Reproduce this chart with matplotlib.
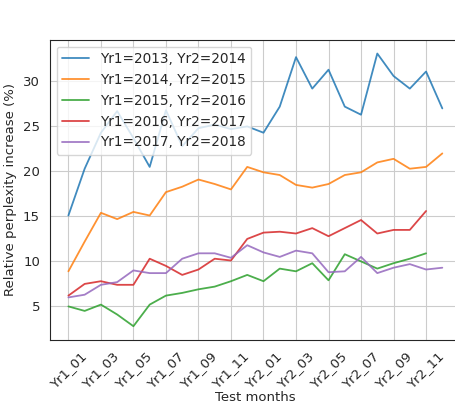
import matplotlib
matplotlib.use("Agg")
import matplotlib.pyplot as plt
import seaborn as sns

months = ["Yr%d_%02d" % (y, m) for y in (1, 2) for m in range(1, 13)]

series_labels = ["Yr1=2013, Yr2=2014", "Yr1=2014, Yr2=2015", "Yr1=2015, Yr2=2016",
                 "Yr1=2016, Yr2=2017", "Yr1=2017, Yr2=2018"]

y2013 = [15.1, 20.3, 24.3, 26.7, 23.7, 20.5, 26.8, 22.8, 24.8, 25.2, 24.7, 25.0,
         24.3, 27.2, 32.7, 29.2, 31.3, 27.2, 26.3, 33.1, 30.6, 29.2, 31.1, 27.0]
y2014 = [8.9, 12.2, 15.4, 14.7, 15.5, 15.1, 17.7, 18.3, 19.1, 18.6, 18.0, 20.5,
         19.9, 19.6, 18.5, 18.2, 18.6, 19.6, 19.9, 21.0, 21.4, 20.3, 20.5, 22.0]
y2015 = [5.0, 4.5, 5.2, 4.1, 2.8, 5.2, 6.2, 6.5, 6.9, 7.2, 7.8, 8.5,
         7.8, 9.2, 8.9, 9.8, 7.9, 10.8, 10.0, 9.2, 9.8, 10.3, 10.9]
y2016 = [6.2, 7.5, 7.8, 7.4, 7.4, 10.3, 9.5, 8.5, 9.1, 10.3, 10.1, 12.5,
         13.2, 13.3, 13.1, 13.7, 12.8, 13.7, 14.6, 13.1, 13.5, 13.5, 15.6]
y2017 = [6.0, 6.3, 7.4, 7.7, 9.0, 8.7, 8.7, 10.3, 10.9, 10.9, 10.4, 11.8,
         11.0, 10.5, 11.2, 10.9, 8.8, 8.9, 10.5, 8.7, 9.3, 9.7, 9.1, 9.3]

sns.set_style("whitegrid", {"axes.edgecolor": ".15"})
plt.rcParams['font.family'] = ['DejaVu Sans']

fig = plt.figure(figsize=(4.56, 4.07), dpi=100)
ax = fig.add_axes([0.109, 0.165, 0.902, 0.737])

for vals, lab in zip([y2013, y2014, y2015, y2016, y2017], series_labels):
    ax.plot(range(len(vals)), vals, label=lab, lw=1.3, alpha=0.85)

ax.set_xticks(range(0, 24, 2))
ax.set_xticklabels(months[::2], rotation=45, fontsize=9.5)
ax.tick_params(axis='y', labelsize=9.5)
ax.set_xlabel("Test months", fontsize=9.5, labelpad=0)
ax.set_ylabel("Relative perplexity increase (%)", fontsize=9.5)
ax.legend(loc="upper left", fontsize=9.8)

fig.savefig("out.png", dpi=100)
